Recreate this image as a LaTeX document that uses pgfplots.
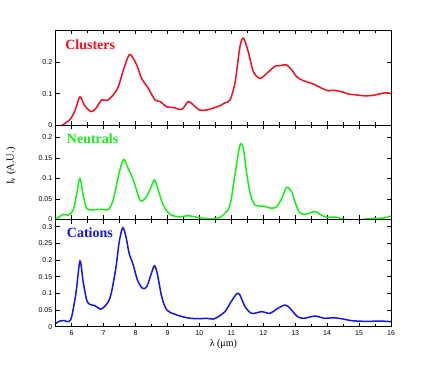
\documentclass[border=0pt]{standalone}
\usepackage{fontspec}
\setmainfont{Liberation Serif}
\setsansfont{Liberation Sans}
\usepackage{pgfplots}
\pgfplotsset{compat=1.18}
\definecolor{cred}{RGB}{240,15,30}
\definecolor{cgreen}{RGB}{20,240,20}
\definecolor{cblue}{RGB}{20,20,235}
\pgfplotsset{panel/.style={
  scale only axis, width=335.3pt,
  xmin=5.5, xmax=16,
  xtick={6,7,...,16}, minor x tick num=1,
  tick align=inside,
  major tick length=4pt, minor tick length=3pt,
  axis line style={line width=0.8pt},
  every tick/.style={black, line width=0.6pt},
  ymin=0,
  scaled y ticks=false,
  yticklabel style={/pgf/number format/fixed, /pgf/number format/precision=2},
  tick label style={font=\sffamily\fontsize{7}{8}\selectfont},
  /pgf/number format/assume math mode=true,
  anchor=south west,
  clip=true,
}}
\begin{document}
\begin{tikzpicture}
\useasboundingbox (0,0) rectangle (436pt,373pt);
% top panel
\begin{axis}[panel, at={(55.7pt,248pt)}, height=95pt, ymax=0.3035,
  ytick={0,0.1,0.2}, xticklabels={}]
\addplot[cred, line width=1.5pt, smooth, tension=0.5] coordinates {
(5.6,-0.01) (5.72,0) (5.95,0.018) (6.1,0.045) (6.26,0.09) (6.4,0.063) (6.6,0.043) (6.75,0.052) (6.94,0.08) (7.1,0.078) (7.3,0.096) (7.46,0.122) (7.62,0.176) (7.8,0.224) (7.93,0.213) (8.06,0.186) (8.19,0.149) (8.4,0.117) (8.61,0.08) (8.77,0.075) (8.98,0.058) (9.18,0.056) (9.45,0.05) (9.65,0.075) (9.81,0.064) (10.0,0.048) (10.23,0.048) (10.45,0.055) (10.65,0.062) (10.8,0.071) (10.96,0.08) (11.12,0.138) (11.27,0.25) (11.38,0.277) (11.53,0.234) (11.69,0.17) (11.9,0.149) (12.11,0.165) (12.37,0.188) (12.55,0.19) (12.73,0.192) (12.89,0.176) (13.05,0.154) (13.25,0.142) (13.57,0.131) (13.78,0.12) (14.04,0.109) (14.19,0.111) (14.51,0.105) (14.66,0.099) (14.93,0.096) (15.19,0.093) (15.45,0.095) (15.71,0.101) (15.87,0.103) (16,0.1)
};
\node[anchor=base west, text=cred, font=\bfseries\fontsize{14}{16}\selectfont, inner sep=0pt] at (rel axis cs:0.028,0.797) {Clusters};
\end{axis}
% middle panel
\begin{axis}[panel, at={(55.7pt,153.7pt)}, height=94.3pt, ymax=0.23,
  ytick={0,0.05,0.1,0.15,0.2}, xticklabels={}]
\draw[gray, line width=1.6pt] (rel axis cs:0,0) -- (rel axis cs:1,0);
\addplot[cgreen, line width=1.5pt, smooth, tension=0.5] coordinates {
(5.5,0) (5.74,0.012) (5.9,0.01) (6.05,0.023) (6.16,0.063) (6.26,0.1) (6.36,0.059) (6.47,0.027) (6.63,0.023) (6.78,0.024) (6.99,0.024) (7.15,0.024) (7.3,0.047) (7.46,0.104) (7.62,0.146) (7.77,0.124) (7.93,0.096) (8.14,0.047) (8.3,0.051) (8.45,0.071) (8.59,0.096) (8.71,0.071) (8.87,0.035) (9.08,0.012) (9.39,0.006) (9.65,0.009) (9.92,0.005) (10.23,0.0015) (10.5,0.002) (10.65,0.005) (10.8,0.015) (10.96,0.035) (11.12,0.112) (11.27,0.181) (11.38,0.171) (11.48,0.112) (11.59,0.063) (11.74,0.035) (12.0,0.032) (12.26,0.027) (12.42,0.031) (12.58,0.051) (12.73,0.078) (12.89,0.067) (12.99,0.043) (13.13,0.017) (13.31,0.012) (13.62,0.019) (13.78,0.012) (13.99,0.005) (14.3,0.005) (14.51,0) (14.93,-0.002) (15.34,0.002) (15.76,0.003) (16,0.008)
};
\node[anchor=base west, text=cgreen, font=\bfseries\fontsize{14}{16}\selectfont, inner sep=0pt] at (rel axis cs:0.033,0.806) {Neutrals};
\end{axis}
% bottom panel
\begin{axis}[panel, at={(55.7pt,46.3pt)}, height=107.2pt, ymax=0.3216,
  ytick={0,0.05,0.1,0.15,0.2,0.25,0.3},
  xlabel={λ (μm)}, xlabel style={font=\fontsize{10}{12}\selectfont, yshift=3pt}]
\addplot[cblue, line width=1.5pt, smooth, tension=0.5] coordinates {
(5.5,0.01) (5.63,0.017) (5.79,0.018) (5.9,0.015) (6.0,0.03) (6.14,0.105) (6.26,0.197) (6.36,0.135) (6.47,0.08) (6.57,0.067) (6.73,0.063) (6.89,0.053) (6.99,0.057) (7.15,0.075) (7.25,0.105) (7.39,0.18) (7.49,0.255) (7.6,0.297) (7.7,0.27) (7.8,0.22) (7.93,0.185) (8.06,0.14) (8.22,0.115) (8.35,0.12) (8.48,0.155) (8.59,0.183) (8.68,0.16) (8.82,0.09) (8.98,0.05) (9.24,0.037) (9.6,0.027) (9.92,0.024) (10.23,0.025) (10.44,0.023) (10.59,0.03) (10.8,0.045) (10.98,0.073) (11.17,0.099) (11.27,0.095) (11.43,0.06) (11.64,0.04) (11.95,0.045) (12.21,0.04) (12.42,0.053) (12.68,0.065) (12.84,0.055) (13.05,0.032) (13.25,0.025) (13.62,0.032) (13.93,0.025) (14.19,0.027) (14.51,0.023) (14.77,0.018) (15.24,0.016) (15.66,0.017) (16,0.015)
};
\node[anchor=base west, text=cblue, font=\bfseries\fontsize{14}{16}\selectfont, inner sep=0pt] at (rel axis cs:0.033,0.83) {Cations};
\end{axis}
\node[rotate=90, font=\fontsize{10.5}{12}\selectfont] at (11pt,207pt) {I\textsubscript{ν} (A.U.)};
\end{tikzpicture}
\end{document}
